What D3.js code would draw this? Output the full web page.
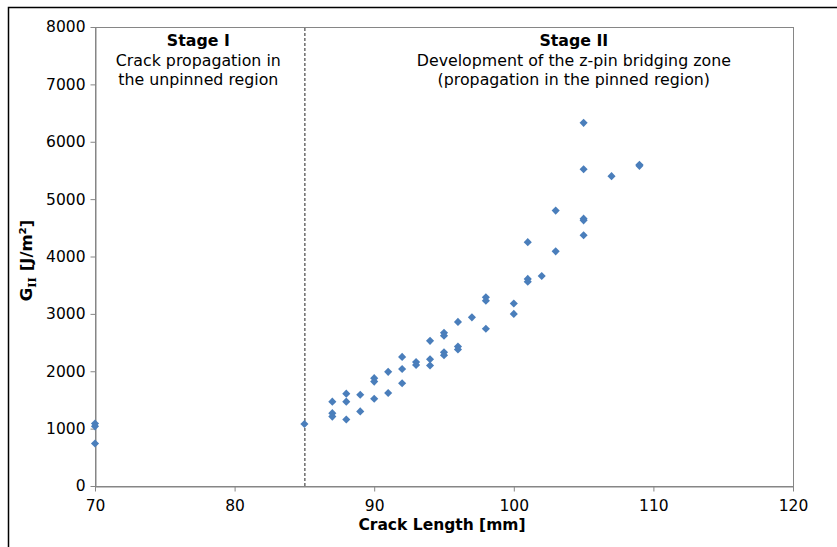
<!DOCTYPE html>
<html>
<head>
<meta charset="utf-8">
<script src="https://cdn.jsdelivr.net/npm/d3@7"></script>
<style>
  body { margin: 0; background: #fff; }
  text { font-family: "DejaVu Sans", Verdana, sans-serif; fill: #000; }
</style>
</head>
<body>
<div id="chart"></div>
<script>
// crack length [mm] and G_II [J/m^2]
const crackLength = [
  70, 70, 70, 85,
  87, 87, 87, 88, 88, 88, 89, 89,
  90, 90, 90, 91, 91, 92, 92, 92, 93, 93,
  94, 94, 94, 95, 95, 95, 95, 96, 96, 96, 97,
  98, 98, 98, 100, 100, 101, 101, 101, 102,
  103, 103, 105, 105, 105, 105, 105, 107, 109, 109
];
const gII = [
  1090, 1040, 740, 1080,
  1470, 1270, 1210, 1610, 1470, 1160, 1590, 1300,
  1880, 1820, 1520, 1990, 1620, 2250, 2040, 1790, 2160, 2110,
  2530, 2210, 2100, 2670, 2620, 2330, 2280, 2860, 2430, 2380, 2940,
  3290, 3230, 2740, 3180, 3000, 4250, 3610, 3560, 3660,
  4800, 4090, 6330, 5520, 4660, 4630, 4370, 5400, 5600, 5580
];
const xTicks = [70, 80, 90, 100, 110, 120];
const yTicks = [0, 1000, 2000, 3000, 4000, 5000, 6000, 7000, 8000];
const stageBoundary = 85;
const stageLabels = [
  { at: 77.4, lines: ["Stage I", "Crack propagation in", "the unpinned region"] },
  { at: 104.3, lines: ["Stage II", "Development of the z-pin bridging zone", "(propagation in the pinned region)"] }
];

const W = 837, H = 547;
const margin = { top: 27, right: 44, bottom: 61, left: 95 };
const width = W - margin.left - margin.right;
const height = H - margin.top - margin.bottom;

const root = d3.select('#chart').append('svg')
  .attr('width', W).attr('height', H);

// outer chart frame (runs off the right/bottom edge)
root.append('rect')
  .attr('x', 8.5).attr('y', 7.5)
  .attr('width', W + 20).attr('height', H + 20)
  .attr('fill', 'none').attr('stroke', '#000').attr('stroke-width', 1.5);

const svg = root.append('g')
  .attr('transform', 'translate(' + margin.left + ',' + margin.top + ')');

const x = d3.scaleLinear().domain([70, 120]).range([0, width]);
const y = d3.scaleLinear().domain([0, 8000]).range([height, 0]);

// plot area box
svg.append('rect')
  .attr('x', 0.5).attr('y', 0.5)
  .attr('width', width).attr('height', height)
  .attr('fill', 'none').attr('stroke', '#868686').attr('stroke-width', 1);

// axes
const xAxis = svg.append('g')
  .attr('transform', 'translate(0,' + (height + 0.5) + ')')
  .call(d3.axisBottom(x).tickValues(xTicks).tickFormat(d3.format('d'))
    .tickSize(5).tickSizeOuter(0).tickPadding(8));
const yAxis = svg.append('g')
  .attr('transform', 'translate(0.5,0)')
  .call(d3.axisLeft(y).tickValues(yTicks).tickFormat(d3.format('d'))
    .tickSize(5).tickSizeOuter(0).tickPadding(5));
[xAxis, yAxis].forEach(a => {
  a.select('.domain').attr('stroke', '#868686');
  a.selectAll('.tick line').attr('stroke', '#868686');
  a.selectAll('.tick text')
    .style('font-family', '"DejaVu Sans", Verdana, sans-serif')
    .style('font-size', '15.5px').attr('fill', '#000');
});

// stage boundary
svg.append('line')
  .attr('x1', x(stageBoundary) + 0.5).attr('x2', x(stageBoundary) + 0.5)
  .attr('y1', y(0)).attr('y2', y(8000))
  .attr('stroke', '#222').attr('stroke-width', 1)
  .attr('stroke-dasharray', '3,2');

// stage annotations
stageLabels.forEach(s => {
  const t = svg.append('text')
    .attr('x', x(s.at)).attr('y', 19)
    .attr('text-anchor', 'middle')
    .style('font-size', '15.8px');
  s.lines.forEach((l, i) => {
    t.append('tspan')
      .attr('x', x(s.at)).attr('dy', i == 0 ? 0 : 19.5)
      .style('font-weight', i == 0 ? 'bold' : 'normal')
      .text(l);
  });
});

// data points
const data = crackLength.map((c, i) => ({ c: c, g: gII[i] }));
svg.selectAll('.pt')
  .data(data)
  .join('path')
  .attr('class', 'pt')
  .attr('d', d3.symbol().type(d3.symbolDiamond2).size(42))
  .attr('transform', d => 'translate(' + x(d.c) + ',' + y(d.g) + ')')
  .attr('fill', '#4A7EBB');

// axis titles
svg.append('text')
  .attr('x', 347).attr('y', height + 44)
  .attr('text-anchor', 'middle')
  .style('font-size', '15.5px').style('font-weight', 'bold')
  .text('Crack Length [mm]');

const yt = svg.append('text')
  .attr('transform', 'translate(' + (-63) + ',' + (height / 2 + 4) + ') rotate(-90)')
  .attr('text-anchor', 'middle')
  .style('font-size', '16.5px').style('font-weight', 'bold');
yt.append('tspan').text('G');
yt.append('tspan').attr('dy', 4).style('font-size', '11.5px')
  .style('font-family', '"DejaVu Serif", serif').text('II');
yt.append('tspan').attr('dy', -4).text(' [J/m²]');
</script>
</body>
</html>
